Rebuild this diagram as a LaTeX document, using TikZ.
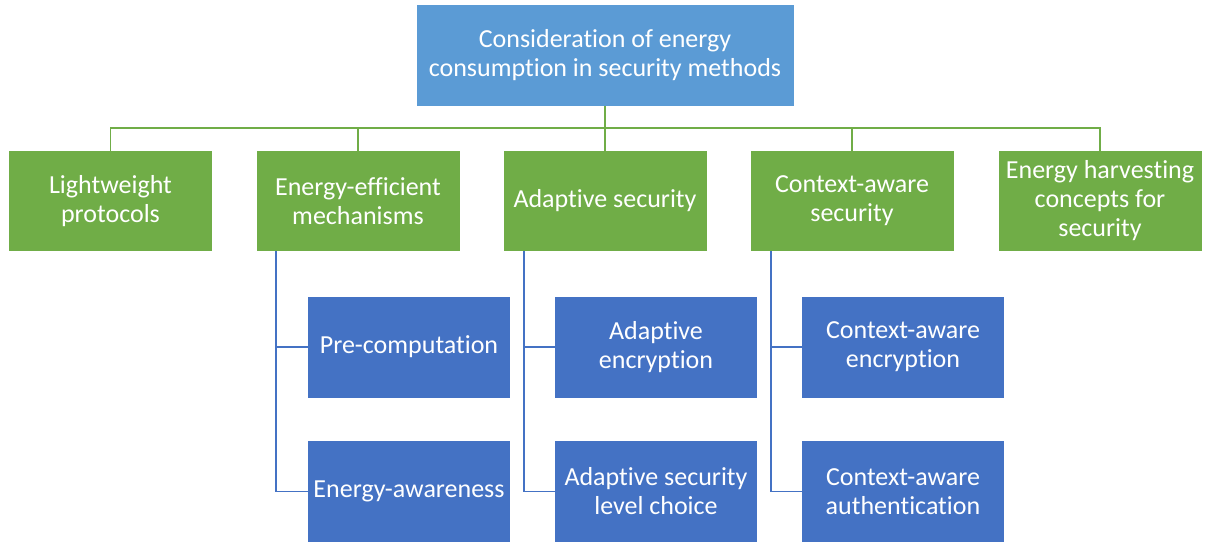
\documentclass[tikz,border=0pt]{standalone}
\usepackage{fontspec}
\setmainfont[Ligatures=NoCommon]{Carlito}
\definecolor{topblue}{HTML}{5B9BD5}
\definecolor{leafgreen}{HTML}{70AD47}
\definecolor{subblue}{HTML}{4472C4}
\begin{document}
\begin{tikzpicture}[
                x=1pt, y=-1pt,
                topbox/.style={rectangle, fill=topblue, text=white, minimum width=377pt, minimum height=101pt, inner sep=0pt, align=center},
                mainbox/.style={rectangle, fill=leafgreen, text=white, minimum width=203pt, minimum height=100pt, inner sep=0pt, align=center},
                subbox/.style={rectangle, fill=subblue, text=white, minimum width=202pt, minimum height=101pt, inner sep=0pt, align=center},
                trunk/.style={draw=leafgreen, line width=1.6pt},
                branch/.style={draw=subblue, line width=1.6pt},
                font=\fontsize{26}{29}\selectfont
            ]
            \useasboundingbox (0,0) rectangle (1206,542);

            % Root
            \node[topbox] (top) at (605,55.5) {Consideration of energy\\consumption in security methods};

            % First level
            \node[mainbox] (lw) at (110.5,201) {Lightweight\\protocols};
            \node[mainbox] (eem) at (358,201) {Energy-efficient\\mechanisms};
            \node[mainbox] (ads) at (605,201) {Adaptive security};
            \node[mainbox] (cas) at (852,201) {Context-aware\\security};
            \node[mainbox] (ehc) at (1100,201) {Energy harvesting\\concepts for\\security};

            % Second level
            \node[subbox] (pre) at (409,347) {Pre-computation};
            \node[subbox] (ena) at (409,491.5) {Energy-awareness};
            \node[subbox] (adenc) at (656,347) {Adaptive\\encryption};
            \node[subbox] (adlvl) at (656,491.5) {Adaptive security\\level choice};
            \node[subbox] (caenc) at (903,347) {Context-aware\\encryption};
            \node[subbox] (caauth) at (903,491.5) {Context-aware\\authentication};

            % Edges
            \foreach \n in {lw,eem,ads,cas,ehc}
                \draw[trunk] (top.south) |- ([yshift=23pt]\n.north) -- (\n.north);
            \draw[branch] ([xshift=-82pt]eem.south) |- (pre.west);
            \draw[branch] ([xshift=-82pt]eem.south) |- (ena.west);
            \draw[branch] ([xshift=-81pt]ads.south) |- (adenc.west);
            \draw[branch] ([xshift=-81pt]ads.south) |- (adlvl.west);
            \draw[branch] ([xshift=-81pt]cas.south) |- (caenc.west);
            \draw[branch] ([xshift=-81pt]cas.south) |- (caauth.west);

        \end{tikzpicture}
\end{document}
